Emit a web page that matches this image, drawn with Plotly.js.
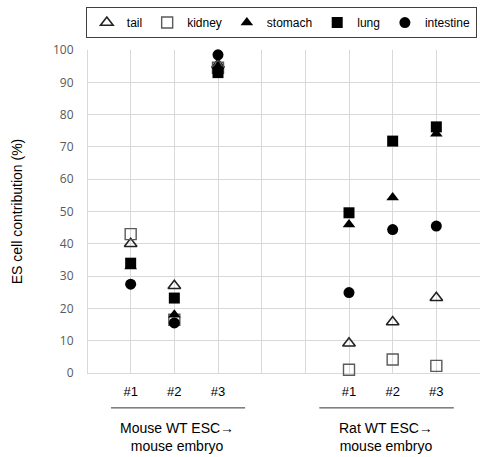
<!DOCTYPE html>
<html>
<head>
<meta charset="utf-8">
<script src="https://cdn.plot.ly/plotly-3.0.1.min.js"></script>
<style>html,body{margin:0;padding:0;background:#fff}#chart{width:480px;height:457px}</style>
</head>
<body>
<div id="chart"></div>
<script>
// Categories (embryo numbers) and groups
const categories = ['#1', '#2', '#3'];
const groupLabels = ['Mouse WT ESC\u2192<br>mouse embryo', 'Rat WT ESC\u2192<br>mouse embryo'];
const tissues = ['tail', 'kidney', 'stomach', 'lung', 'intestine'];

// ES cell contribution (%) — mouse group (#1, #2, #3)
const mouseTail = [40, 27, 95.5];
const mouseKidney = [43, 16.5, 94.5];
const mouseStomach = [33, 18, 95];
const mouseLung = [34, 23.2, 93];
const mouseIntestine = [27.5, 15.5, 98.5];

// ES cell contribution (%) — rat group (#1, #2, #3)
const ratTail = [9.2, 15.8, 23.3];
const ratKidney = [1.0, 4.2, 2.2];
const ratStomach = [46, 54.3, 74.1];
const ratLung = [49.6, 71.8, 76.2];
const ratIntestine = [24.9, 44.4, 45.5];

const yTicks = [0, 10, 20, 30, 40, 50, 60, 70, 80, 90, 100];

// layout positions: mouse at 1..3, rat at 6..8 on a 0..9 axis
const mouseX = categories.map((c, i) => i + 1);
const ratX = categories.map((c, i) => i + 6);
const allX = mouseX.concat(ratX);
const gridVals = [0, 1, 2, 3, 4, 5, 6, 7, 8, 9];
const gridText = gridVals.map(v => {
  const i = allX.indexOf(v);
  return i >= 0 ? categories[i % 3] : '';
});

const series = {
  tail: mouseTail.concat(ratTail),
  kidney: mouseKidney.concat(ratKidney),
  stomach: mouseStomach.concat(ratStomach),
  lung: mouseLung.concat(ratLung),
  intestine: mouseIntestine.concat(ratIntestine)
};
const styles = {
  tail: {symbol: 'triangle-up-open', size: 11, color: '#222', line: {width: 1.6, color: '#222'}},
  kidney: {symbol: 'square-open', size: 11, color: '#5a5a5a', line: {width: 1.4, color: '#5a5a5a'}},
  stomach: {symbol: 'triangle-up', size: 11, color: '#000'},
  lung: {symbol: 'square', size: 11, color: '#000'},
  intestine: {symbol: 'circle', size: 11, color: '#000'}
};

const traces = tissues.map(t => ({
  type: 'scatter', mode: 'markers', name: t,
  x: allX, y: series[t],
  marker: styles[t],
  cliponaxis: false
}));

const font = 'Liberation Sans, Arial, sans-serif';
const layout = {
  width: 480, height: 457,
  margin: {l: 87, r: 0, t: 50, b: 84},
  paper_bgcolor: '#fff', plot_bgcolor: '#fff',
  font: {family: font, color: '#000', size: 12},
  showlegend: true,
  legend: {
    orientation: 'h', x: -0.003, xanchor: 'left', y: 1.133, yanchor: 'top',
    bordercolor: '#404040', borderwidth: 1, font: {family: font, size: 12, color: '#000'},
    itemclick: false
  },
  xaxis: {
    range: [0, 9], tickvals: gridVals, ticktext: gridText,
    showgrid: true, gridcolor: '#d9d9d9', gridwidth: 1,
    zeroline: true, zerolinecolor: '#d9d9d9', zerolinewidth: 1,
    ticks: 'outside', ticklen: 6, tickcolor: 'rgba(0,0,0,0)',
    tickfont: {family: font, size: 13, color: '#000'},
    fixedrange: true
  },
  yaxis: {
    range: [0, 100], tickvals: yTicks,
    showgrid: true, gridcolor: '#d9d9d9', gridwidth: 1,
    zeroline: true, zerolinecolor: '#d9d9d9', zerolinewidth: 1,
    ticks: 'outside', ticklen: 10, tickcolor: 'rgba(0,0,0,0)',
    tickfont: {family: 'Open Sans, sans-serif', size: 12, color: '#595959'},
    title: {text: 'ES cell contribution (%)', font: {family: font, size: 14, color: '#000'}, standoff: 27},
    fixedrange: true
  },
  shapes: [
    {type: 'line', xref: 'x', yref: 'paper', x0: 0.55, x1: 3.62, y0: -0.108, y1: -0.108, line: {color: '#333', width: 1}},
    {type: 'line', xref: 'x', yref: 'paper', x0: 5.32, x1: 8.4, y0: -0.108, y1: -0.108, line: {color: '#333', width: 1}}
  ],
  annotations: [
    {xref: 'x', yref: 'paper', x: 2.05, y: -0.198, text: groupLabels[0], showarrow: false, font: {family: font, size: 14, color: '#000'}, align: 'center', yanchor: 'middle'},
    {xref: 'x', yref: 'paper', x: 6.85, y: -0.198, text: groupLabels[1], showarrow: false, font: {family: font, size: 14, color: '#000'}, align: 'center', yanchor: 'middle'}
  ]
};

Plotly.newPlot('chart', traces, layout, {displayModeBar: false, staticPlot: true});
</script>
</body>
</html>
